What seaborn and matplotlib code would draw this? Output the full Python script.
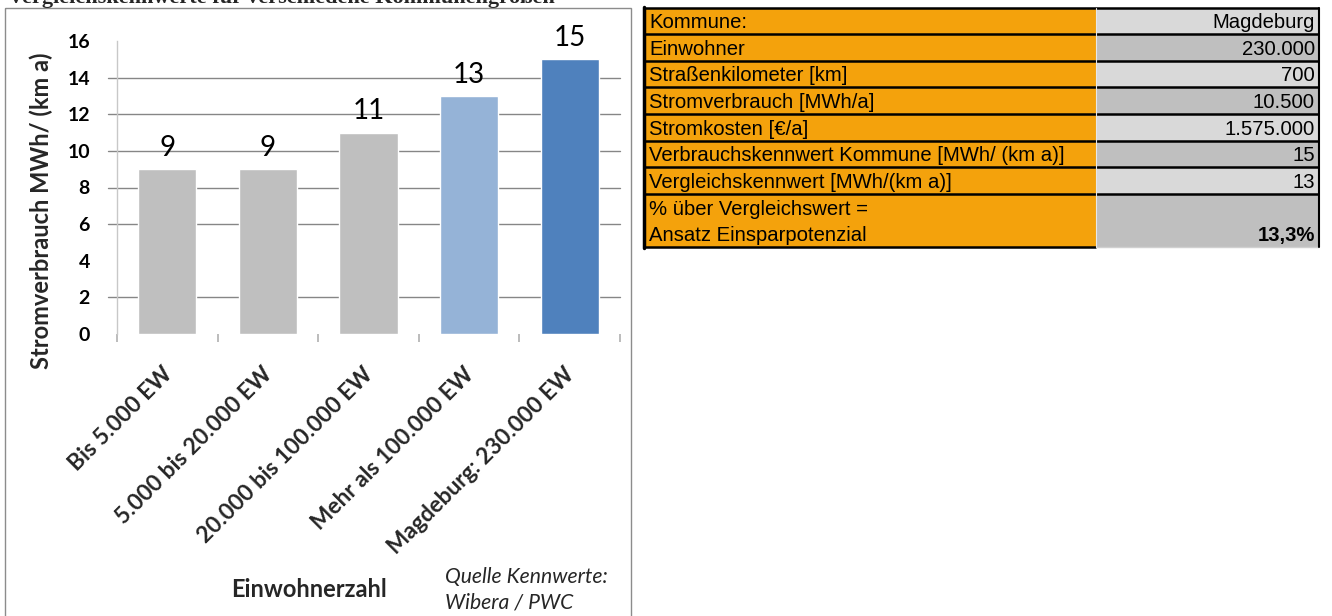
import matplotlib
matplotlib.use("Agg")
import matplotlib.pyplot as plt
import matplotlib.transforms as mtransforms
import seaborn as sns
import pandas as pd
from matplotlib.patches import Rectangle

# ---------------- data ----------------
categories = ["Bis 5.000 EW", "5.000 bis 20.000 EW", "20.000 bis 100.000 EW",
              "Mehr als 100.000 EW", "Magdeburg: 230.000 EW"]
values = [9, 9, 11, 13, 15]
bar_colors = ["#BFBFBF", "#BFBFBF", "#BFBFBF", "#95B3D7", "#4F81BD"]
y_ticks = [0, 2, 4, 6, 8, 10, 12, 14, 16]
grid_values = [2, 6, 8, 10, 12, 14]

title = "Vergleichskennwerte für verschiedene Kommunengrößen"
y_label = "Stromverbrauch MWh/ (km a)"
x_label = "Einwohnerzahl"
source_lines = ["Quelle Kennwerte:", "Wibera / PWC"]

table_labels = ["Kommune:", "Einwohner", "Straßenkilometer [km]", "Stromverbrauch [MWh/a]",
                "Stromkosten [€/a]", "Verbrauchskennwert Kommune [MWh/ (km a)]",
                "Vergleichskennwert [MWh/(km a)]",
                "% über Vergleichswert =\nAnsatz Einsparpotenzial"]
table_values = ["Magdeburg", "230.000", "700", "10.500", "1.575.000", "15", "13", "13,3%"]
row_spans = [1, 1, 1, 1, 1, 1, 1, 2]

# ---------------- style ----------------
sns.set_theme(style="white")
plt.rcParams['font.family'] = ['Lato', 'DejaVu Sans']

W, H = 1332, 616
fig = plt.figure(figsize=(W / 100, H / 100), dpi=100)

bg = fig.add_axes([0, 0, 1, 1])
bg.set_xlim(0, W)
bg.set_ylim(H, 0)
bg.axis('off')

# title (cut off at the top, as in the source page)
bg.text(8, 3, title, family=['Liberation Serif', 'DejaVu Serif'], weight='bold',
        fontsize=16, ha='left', va='baseline')

# chart frame
bg.add_patch(Rectangle((5, 8), 626, 640, fill=False, edgecolor='#8C8C8C', lw=1.0))

# ---------------- bar chart ----------------
ax_l, ax_r, ax_t, ax_b = 117, 620, 41, 334
aw, ah = ax_r - ax_l, ax_b - ax_t
ax = fig.add_axes([ax_l / W, (H - ax_b) / H, aw / W, ah / H])
ax.patch.set_alpha(0)

df = pd.DataFrame({x_label: categories, "Wert": values})
sns.barplot(data=df, x=x_label, y="Wert", hue=x_label, palette=bar_colors,
            legend=False, width=0.58, saturation=1, ax=ax, zorder=2)

ax.set_xlim(-0.5, len(categories) - 0.5)
ax.set_ylim(0, 16)

for g in grid_values:
    ax.axhline(g, xmin=-9 / aw, xmax=1, color='#868686', lw=1.0,
               zorder=1, clip_on=False)

for s in ['top', 'right', 'bottom']:
    ax.spines[s].set_visible(False)
ax.spines['left'].set_color('#C8C8C8')
ax.spines['left'].set_linewidth(1.0)

ax.set_yticks(y_ticks)
ax.set_yticklabels([str(t) for t in y_ticks], fontsize=14, weight='bold')
ax.tick_params(axis='y', length=0, pad=19.5, colors='black')

ax.set_xticks(range(len(categories)))
ax.set_xticks([i - 0.5 for i in range(len(categories) + 1)], minor=True)
ax.set_xticklabels(categories, rotation=45, ha='right', rotation_mode='anchor',
                   fontsize=16.3, weight='bold')
ax.tick_params(axis='x', which='major', length=0, pad=22)
ax.tick_params(axis='x', which='minor', bottom=True, length=6, width=1.2,
               color='#B0B0B0', direction='out')
shift = mtransforms.ScaledTranslation(-0.06, 0.01, fig.dpi_scale_trans)
for lbl in ax.get_xticklabels():
    lbl.set_transform(lbl.get_transform() + shift)

for cont in ax.containers:
    ax.bar_label(cont, fmt='%d', fontsize=20, padding=6, color='black')

ax.set_ylabel(y_label, fontsize=17, weight='bold')
ax.yaxis.set_label_coords(-64 / aw, (ax_b - 211) / ah)
ax.set_xlabel(x_label, fontsize=17, weight='bold')
ax.xaxis.set_label_coords((309 - ax_l) / aw, (ax_b - 578) / ah)

for k, line in enumerate(source_lines):
    bg.text(445, 577 + 25 * k, line, fontsize=15.2, style='italic', ha='left', va='center')

# ---------------- table ----------------
orange = "#F4A20C"
grey_light = "#D9D9D9"
grey_dark = "#BFBFBF"
t_left, t_mid, t_right = 644, 1096, 1319
t_top, row_h = 7.5, 26.65
tfont = dict(family=['Liberation Sans', 'DejaVu Sans'], fontsize=14.6, color='black')

y = t_top
for i, (lab, val, span) in enumerate(zip(table_labels, table_values, row_spans)):
    h = row_h * span
    bg.add_patch(Rectangle((t_left, y), t_mid - t_left, h, facecolor=orange, edgecolor='none'))
    bg.add_patch(Rectangle((t_mid, y), t_right - t_mid, h,
                           facecolor=grey_light if i % 2 == 0 else grey_dark, edgecolor='none'))
    for j, line in enumerate(lab.split("\n")):
        bg.text(t_left + 5, y + row_h * (j + 1) - 6, line, ha='left', va='baseline', **tfont)
    bg.text(t_right - 4, y + h - 6, val, ha='right', va='baseline',
            weight='bold' if i == len(table_labels) - 1 else 'normal', **tfont)
    bg.plot([t_left, t_right], [y, y], color='black', lw=1.8, solid_capstyle='butt')
    y += h
bg.plot([t_left, t_mid], [y, y], color='black', lw=1.8, solid_capstyle='butt')
bg.plot([t_mid, t_right], [y, y], color='#D0D0D0', lw=1.0, solid_capstyle='butt')
bg.plot([t_left, t_left], [t_top - 1, y + 1], color='black', lw=2.5)
bg.plot([t_right, t_right], [t_top, y], color='black', lw=1.5)
bg.plot([t_mid, t_mid], [t_top, y], color='#E8E8E8', lw=0.8)

fig.savefig("out.png", dpi=100)
